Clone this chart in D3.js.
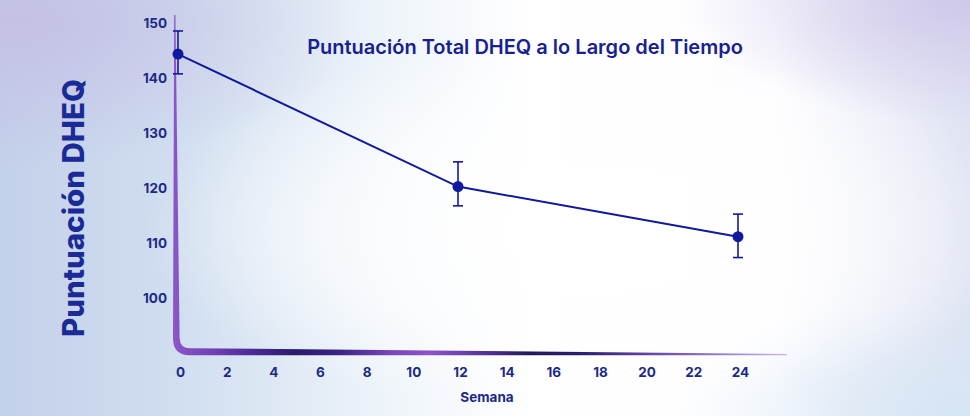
<!DOCTYPE html>
<html>
<head>
<meta charset="utf-8">
<script src="https://cdn.jsdelivr.net/npm/d3@7/dist/d3.min.js"></script>
<style>
html,body{margin:0;padding:0;background:#fff;}
svg{display:block;}
text{font-family:Inter,"Open Sans",sans-serif;}
</style>
</head>
<body>
<svg id="chart" width="970" height="416"></svg>
<script>
// ---- data ----
const weeks = [0, 12, 24];
const scores = [144.3, 120.2, 111.1];
const upper = [148.5, 124.7, 115.2];
const lower = [140.7, 116.7, 107.3];
const xTicks = [0, 2, 4, 6, 8, 10, 12, 14, 16, 18, 20, 22, 24];
const yTicks = [100, 110, 120, 130, 140, 150];
const titleText = "Puntuación Total DHEQ a lo Largo del Tiempo";
const xLabel = "Semana";
const yLabel = "Puntuación DHEQ";

const W = 970, H = 416;
const svg = d3.select("#chart");
const defs = svg.append("defs");

// background gradients
const bg = defs.append("linearGradient").attr("id","bg").attr("x1","0").attr("x2","1").attr("y1","0").attr("y2","0");
[[0,"#c3d0ea"],[0.18,"#d0def0"],[0.4,"#eef4fa"],[0.55,"#ffffff"],[0.8,"#fdfdff"],[1,"#dfe3f3"]]
  .forEach(([o,c])=>bg.append("stop").attr("offset",o).attr("stop-color",c));
const rg = defs.append("radialGradient").attr("id","glow").attr("cx","0.6").attr("cy","0.55").attr("r","0.45");
rg.append("stop").attr("offset",0).attr("stop-color","#ffffff").attr("stop-opacity",1);
rg.append("stop").attr("offset",0.6).attr("stop-color","#ffffff").attr("stop-opacity",0.6);
rg.append("stop").attr("offset",1).attr("stop-color","#ffffff").attr("stop-opacity",0);
const tl = defs.append("radialGradient").attr("id","tl").attr("cx","0.02").attr("cy","0.05").attr("r","0.35");
tl.append("stop").attr("offset",0).attr("stop-color","#c4bfe4").attr("stop-opacity",0.9);
tl.append("stop").attr("offset",1).attr("stop-color","#c4bfe4").attr("stop-opacity",0);
const tr = defs.append("radialGradient").attr("id","tr").attr("cx","1").attr("cy","0").attr("r","0.3");
tr.append("stop").attr("offset",0).attr("stop-color","#cfc8ea").attr("stop-opacity",1);
tr.append("stop").attr("offset",1).attr("stop-color","#cfc8ea").attr("stop-opacity",0);
const br = defs.append("radialGradient").attr("id","br").attr("cx","1").attr("cy","1").attr("r","0.3");
br.append("stop").attr("offset",0).attr("stop-color","#d6e6f4").attr("stop-opacity",1);
br.append("stop").attr("offset",1).attr("stop-color","#d6e6f4").attr("stop-opacity",0);

svg.append("rect").attr("width",W).attr("height",H).attr("fill","url(#bg)");
svg.append("rect").attr("width",W).attr("height",H).attr("fill","url(#tl)");
svg.append("rect").attr("width",W).attr("height",H).attr("fill","url(#tr)");
svg.append("rect").attr("width",W).attr("height",H).attr("fill","url(#br)");
svg.append("rect").attr("width",W).attr("height",H).attr("fill","url(#glow)");

// scales
const x = d3.scaleLinear().domain([0, 24]).range([178, 738]);
const y = d3.scaleLinear().domain([90, 150]).range([352.7, 22.7]);

// axis shape gradient
const ag = defs.append("linearGradient").attr("id","axisGrad").attr("gradientUnits","userSpaceOnUse")
  .attr("x1", x(-0.2)).attr("x2", x(26)).attr("y1",0).attr("y2",0);
[[0,"#8a56c8"],[0.06,"#7442b8"],[0.13,"#4a2a94"],[0.2,"#2a1a6c"],[0.27,"#3a2484"],[0.36,"#7a48bc"],[0.42,"#8c54c8"],[0.5,"#5a36a0"],[0.58,"#22195e"],[0.66,"#2a1d6c"],[0.76,"#5a3c9e"],[0.88,"#9274cc"],[1,"#c7b4ea"]]
  .forEach(([o,c])=>ag.append("stop").attr("offset",o).attr("stop-color",c));

const xl = x(0) - 5;          // outer left edge of vertical axis
const yb = y(90) + 2.5;       // outer bottom edge of horizontal axis
const yTop = y(151.4);
const xEnd = x(26.1);
const p = d3.path();
p.moveTo(xl + 1.2, yTop);
p.lineTo(xl + 2.4, yTop);
p.lineTo(xl + 6.6, yb - 17);
p.quadraticCurveTo(xl + 7, yb - 7, xl + 17, yb - 7);
p.lineTo(xEnd, yb - 1.2);
p.lineTo(xEnd, yb);
p.lineTo(xl + 17, yb);
p.quadraticCurveTo(xl, yb, xl, yb - 17);
p.closePath();
svg.append("path").attr("d", p.toString()).attr("fill","url(#axisGrad)");

const tickColor = "#1c2a86";
// y tick labels
svg.append("g").selectAll("text").data(yTicks).join("text")
  .attr("x", 167).attr("y", d => y(d))
  .attr("text-anchor","end").attr("dominant-baseline","central")
  .attr("font-size", 13.5).attr("font-weight", 700).attr("fill", tickColor)
  .text(d => d);

// x tick labels
svg.append("g").selectAll("text").data(xTicks).join("text")
  .attr("x", d => x(d) + 2.5).attr("y", 372)
  .attr("text-anchor","middle").attr("dominant-baseline","central")
  .attr("font-size", 13.5).attr("font-weight", 700).attr("fill", tickColor)
  .text(d => d);

// axis titles
svg.append("text").attr("x", 487).attr("y", 397)
  .attr("text-anchor","middle").attr("dominant-baseline","central")
  .attr("font-size", 13.5).attr("font-weight", 700).attr("fill", tickColor)
  .text(xLabel);

svg.append("text").attr("transform", "translate(84,208) rotate(-90)")
  .attr("text-anchor","middle")
  .attr("font-size", 29.5).attr("font-weight", 800).attr("fill","#1a2a96")
  .text(yLabel);

svg.append("text").attr("x", 525).attr("y", 47)
  .attr("text-anchor","middle").attr("dominant-baseline","central")
  .attr("font-size", 20).attr("font-weight", 600).attr("fill","#17218f")
  .text(titleText);

// data
const pts = weeks.map((w,i)=>({w, v:scores[i], hi:upper[i], lo:lower[i]}));
const lineColor = "#12199a";

svg.append("path").datum(pts)
  .attr("d", d3.line().x(d=>x(d.w)).y(d=>y(d.v)))
  .attr("fill","none").attr("stroke", lineColor).attr("stroke-width", 2);

const eb = svg.append("g").attr("stroke", lineColor).attr("stroke-width", 1.6);
eb.selectAll("line.v").data(pts).join("line").attr("class","v")
  .attr("x1", d=>x(d.w)).attr("x2", d=>x(d.w)).attr("y1", d=>y(d.hi)).attr("y2", d=>y(d.lo));
eb.selectAll("line.t").data(pts).join("line").attr("class","t")
  .attr("x1", d=>x(d.w)-5).attr("x2", d=>x(d.w)+5).attr("y1", d=>y(d.hi)).attr("y2", d=>y(d.hi));
eb.selectAll("line.b").data(pts).join("line").attr("class","b")
  .attr("x1", d=>x(d.w)-5).attr("x2", d=>x(d.w)+5).attr("y1", d=>y(d.lo)).attr("y2", d=>y(d.lo));

svg.append("g").selectAll("circle").data(pts).join("circle")
  .attr("cx", d=>x(d.w)).attr("cy", d=>y(d.v)).attr("r", 5.5)
  .attr("fill", "#101a9e");
</script>
</body>
</html>
